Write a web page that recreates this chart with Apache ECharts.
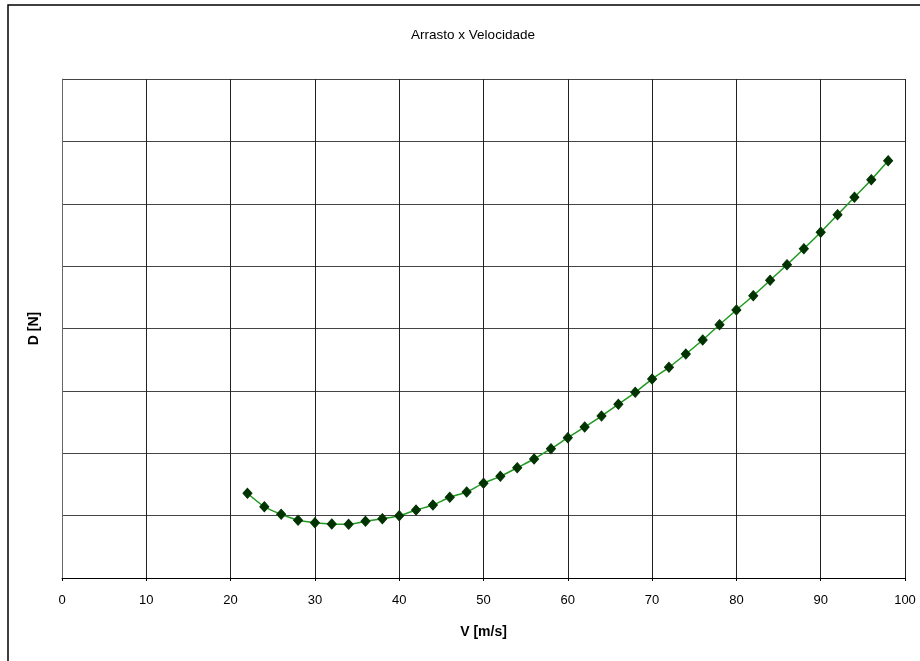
<!DOCTYPE html>
<html>
<head>
<meta charset="utf-8">
<title>Arrasto x Velocidade</title>
<script src="https://cdn.jsdelivr.net/npm/echarts@6/dist/echarts.min.js"></script>
<style>
  html, body { margin: 0; padding: 0; background: #fff; }
  #chart { width: 920px; height: 661px; }
</style>
</head>
<body>
<div id="chart"></div>
<script>
// Velocidade [m/s]
const velocidade = [22, 24, 26, 28, 30, 32, 34, 36, 38, 40,
                    42, 44, 46, 48, 50, 52, 54, 56, 58, 60,
                    62, 64, 66, 68, 70, 72, 74, 76, 78, 80,
                    82, 84, 86, 88, 90, 92, 94, 96, 98];
// Arrasto D [N]
const arrasto = [135.8, 114.3, 102.1, 92.5, 88.7, 86.6, 86.1, 90.9, 95.1, 99.9,
                 109.0, 117.0, 129.4, 137.9, 152.0, 163.0, 176.8, 190.8, 207.3, 224.9,
                 242.1, 259.7, 278.5, 297.7, 319.0, 337.8, 359.1, 381.6, 406.1, 429.7,
                 452.6, 477.3, 502.3, 527.9, 554.4, 582.4, 610.5, 638.6, 669.0];
const xTicks = [0, 10, 20, 30, 40, 50, 60, 70, 80, 90, 100];

const chart = echarts.init(document.getElementById('chart'), null, { renderer: 'canvas' });
const font = 'Liberation Sans, Arial, sans-serif';

chart.setOption({
  animation: false,
  backgroundColor: '#fff',
  textStyle: { fontFamily: font },
  graphic: [{
    type: 'rect',
    shape: { x: 8, y: 5, width: 940, height: 700 },
    style: { fill: 'none', stroke: '#000', lineWidth: 1.5 },
    silent: true
  }],
  title: {
    text: 'Arrasto x Velocidade',
    left: 468,
    top: 23,
    textAlign: 'center',
    textStyle: { fontFamily: font, fontSize: 13.5, fontWeight: 'normal', color: '#000' }
  },
  grid: { left: 62, right: 15, top: 79, bottom: 83, containLabel: false },
  xAxis: {
    type: 'value',
    min: xTicks[0],
    max: xTicks[xTicks.length - 1],
    interval: 10,
    name: 'V [m/s]',
    nameLocation: 'middle',
    nameGap: 47,
    nameTextStyle: { fontFamily: font, fontSize: 14, fontWeight: 'bold', color: '#000' },
    axisLine: { show: true, onZero: false, lineStyle: { color: '#000', width: 1 } },
    axisTick: { show: true, length: 3, lineStyle: { color: '#000' } },
    axisLabel: { margin: 16, fontFamily: font, fontSize: 13, color: '#000' },
    splitLine: { show: true, lineStyle: { color: '#222', width: 1 } }
  },
  yAxis: {
    type: 'value',
    min: 0,
    max: 800,
    interval: 100,
    name: 'D [N]',
    nameLocation: 'middle',
    nameGap: 21,
    nameTextStyle: { fontFamily: font, fontSize: 14, fontWeight: 'bold', color: '#000' },
    axisLine: { show: true, lineStyle: { color: '#666', width: 1 } },
    axisTick: { show: false },
    axisLabel: { show: false },
    splitLine: { show: true, lineStyle: { color: '#444', width: 1 } }
  },
  series: [{
    type: 'line',
    data: velocidade.map((v, i) => [v, arrasto[i]]),
    smooth: 0.3,
    symbol: 'diamond',
    symbolSize: [9, 10],
    itemStyle: { color: '#003300', borderColor: '#003300' },
    lineStyle: { color: '#1f9a1f', width: 1.5 },
    z: 5
  }]
});
</script>
</body>
</html>
